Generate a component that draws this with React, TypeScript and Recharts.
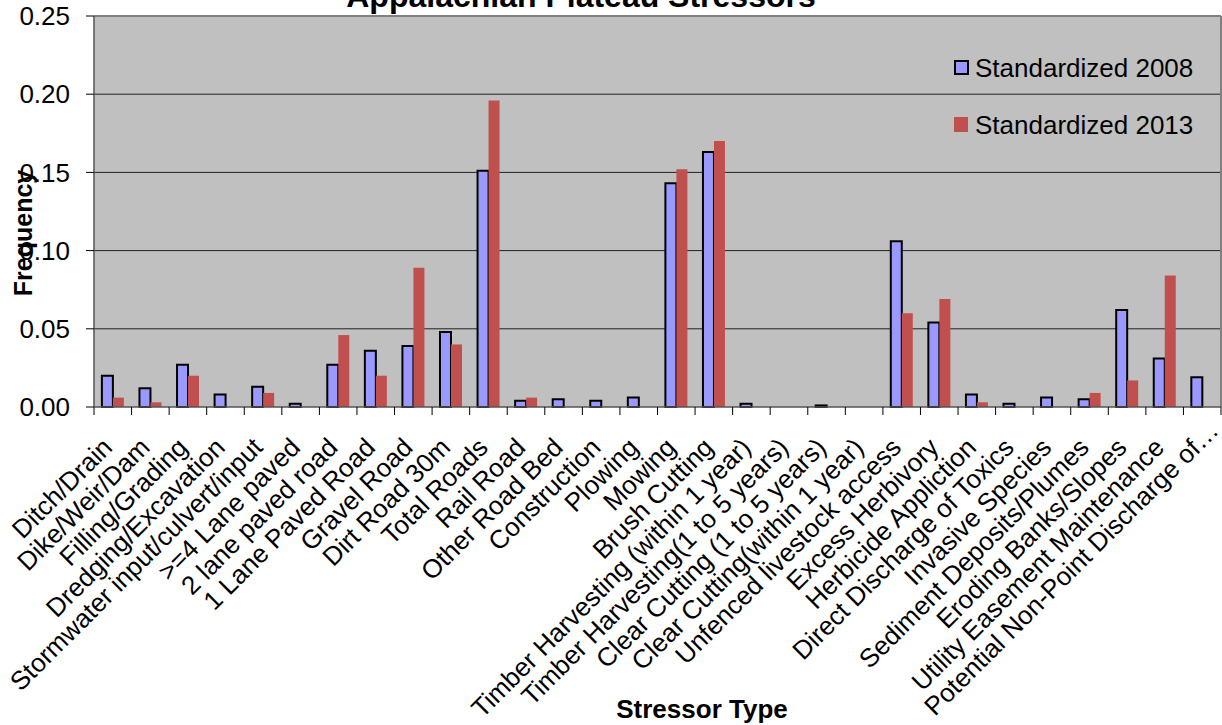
import { BarChart, Bar, XAxis, YAxis, CartesianGrid, Legend, ReferenceLine } from 'recharts';

const categories = [
  'Ditch/Drain',
  'Dike/Weir/Dam',
  'Filling/Grading',
  'Dredging/Excavation',
  'Stormwater input/culvert/input',
  '>=4 Lane paved',
  '2 lane paved road',
  '1 Lane Paved Road',
  'Gravel Road',
  'Dirt Road 30m',
  'Total Roads',
  'Rail Road',
  'Other Road Bed',
  'Construction',
  'Plowing',
  'Mowing',
  'Brush Cutting',
  'Timber Harvesting (within 1 year)',
  'Timber Harvesting(1 to 5 years)',
  'Clear Cutting (1 to 5 years)',
  'Clear Cutting(within 1 year)',
  'Unfenced livestock access',
  'Excess Herbivory',
  'Herbicide Appliction',
  'Direct Discharge of Toxics',
  'Invasive Species',
  'Sediment Deposits/Plumes',
  'Eroding Banks/Slopes',
  'Utility Easement Maintenance',
  'Potential Non-Point Discharge of…',
];

const std2008 = [
  0.020, 0.012, 0.027, 0.008, 0.013, 0.002, 0.027, 0.036, 0.039, 0.048,
  0.151, 0.004, 0.005, 0.004, 0.006, 0.143, 0.163, 0.002, null, 0.001,
  null, 0.106, 0.054, 0.008, 0.002, 0.006, 0.005, 0.062, 0.031, 0.019,
];

const std2013 = [
  0.006, 0.003, 0.020, null, 0.009, null, 0.046, 0.020, 0.089, 0.040,
  0.196, 0.006, null, null, null, 0.152, 0.170, null, null, null,
  null, 0.060, 0.069, 0.003, null, null, 0.009, 0.017, 0.084, null,
];

const yTicks = [0, 0.05, 0.1, 0.15, 0.2, 0.25];

const data = categories.map((name, i) => ({
  name,
  s2008: std2008[i],
  s2013: std2013[i],
}));

const W = 1222;
const H = 725;
const PLOT_LEFT = 94;
const PLOT_RIGHT = 1221;
const BAND = (PLOT_RIGHT - PLOT_LEFT) / categories.length;
const FONT = "'Liberation Sans', Arial, sans-serif";

// Excel-style category ticks: marks on the band edges, labels slanted 45deg
const StressorTick = (props: any) => {
  const { x, y, payload, index } = props;
  const half = BAND / 2;
  const last = index === categories.length - 1;
  // the truncated last label sits a bit further up along its baseline
  const shift = last ? 17 : 0;
  const ax = x + 1 + shift;
  const ay = y + 42 - shift;
  return (
    <g>
      <line x1={x - half} y1={y} x2={x - half} y2={y + 8} stroke="#000" />
      {last && <line x1={x + half} y1={y} x2={x + half} y2={y + 8} stroke="#000" />}
      <text
        x={ax}
        y={ay}
        transform={`rotate(-45, ${ax}, ${ay})`}
        textAnchor="end"
        fontSize={26}
        fontFamily={FONT}
        fill="#000"
      >
        {payload.value}
      </text>
    </g>
  );
};

const LegendBox = () => (
  <svg width={260} height={90} style={{ overflow: 'visible' }}>
    <rect x={5} y={7} width={13} height={13} fill="#9999FF" stroke="#000" strokeWidth={2} />
    <text x={25} y={23} fontSize={26} fontFamily={FONT} fill="#000">Standardized 2008</text>
    <rect x={4} y={63} width={14} height={15} fill="#C0504D" />
    <text x={25} y={80} fontSize={26} fontFamily={FONT} fill="#000">Standardized 2013</text>
  </svg>
);

export default function App() {
  return (
    <div style={{ position: 'absolute', left: 0, top: 0, width: W, height: H, background: '#fff' }}>
      <BarChart
        width={W}
        height={H}
        data={data}
        margin={{ top: 16, right: 1, left: 0, bottom: 0 }}
        barCategoryGap="21%"
        barGap={0}
      >
        <CartesianGrid
          vertical={false}
          horizontalValues={[0.05, 0.1, 0.15, 0.2]}
          stroke="#222"
          fill="#C0C0C0"
          fillOpacity={1}
        />
        <XAxis
          dataKey="name"
          interval={0}
          height={H - 407}
          tick={<StressorTick />}
          tickLine={false}
          tickSize={0}
          tickMargin={0}
          axisLine={{ stroke: '#555', strokeWidth: 1.5 }}
        />
        <YAxis
          width={PLOT_LEFT}
          domain={[0, 0.25]}
          ticks={yTicks}
          tickFormatter={(v: number) => v.toFixed(2)}
          tickSize={8}
          tickMargin={16}
          tick={{ fontSize: 26, fill: '#000', fontFamily: FONT }}
          tickLine={{ stroke: '#000' }}
          axisLine={{ stroke: '#555', strokeWidth: 1.5 }}
        />
        <ReferenceLine y={0.25} stroke="#808080" strokeWidth={2} />
        <ReferenceLine x={categories[categories.length - 1]} position="end" stroke="#808080" strokeWidth={2} />
        <Legend
          layout="vertical"
          align="center"
          verticalAlign="middle"
          wrapperStyle={{ left: 950, top: 54, width: 260 }}
          content={() => <LegendBox />}
        />
        <Bar dataKey="s2008" name="Standardized 2008" fill="#9999FF" stroke="#000" strokeWidth={2} isAnimationActive={false} />
        <Bar dataKey="s2013" name="Standardized 2013" fill="#C0504D" isAnimationActive={false} />
      </BarChart>
      <svg
        width={W}
        height={H}
        style={{ position: 'absolute', left: 0, top: 0, pointerEvents: 'none' }}
      >
        <text x={581} y={7} textAnchor="middle" fontSize={32} fontWeight="bold" fontFamily={FONT} fill="#000">
          Appalachian Plateau Stressors
        </text>
        <text
          x={32}
          y={233}
          transform="rotate(-90, 32, 233)"
          textAnchor="middle"
          fontSize={25}
          fontWeight="bold"
          fontFamily={FONT}
          fill="#000"
        >
          Frequency
        </text>
        <text x={702} y={718} textAnchor="middle" fontSize={26} fontWeight="bold" fontFamily={FONT} fill="#000">
          Stressor Type
        </text>
      </svg>
    </div>
  );
}
